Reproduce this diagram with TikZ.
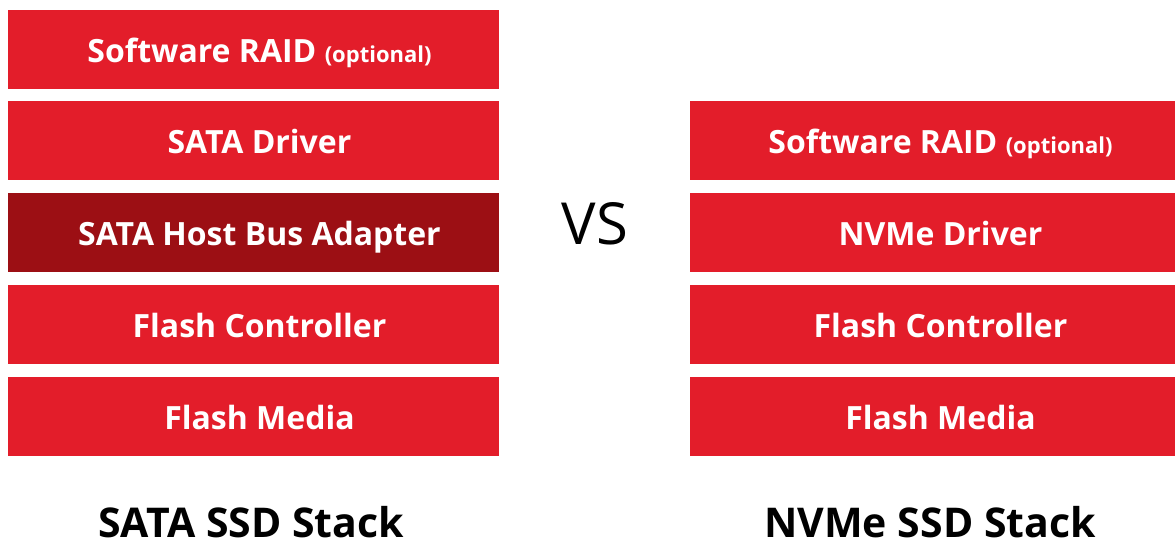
\documentclass[tikz,border=0pt]{standalone}
\usepackage{fontspec}
\setmainfont{Open Sans}
\definecolor{stackred}{HTML}{E31D2A}
\definecolor{stackdark}{HTML}{9C0F14}

\begin{document}
\begin{tikzpicture}[x=1pt,y=-1pt,
  layer/.style={fill=stackred,text=white,inner sep=0pt,minimum width=491pt,minimum height=79pt,
    text height=26pt,text depth=0pt,font=\fontsize{32}{34}\selectfont\bfseries},
  title/.style={font=\fontsize{41}{46}\selectfont\bfseries,inner sep=0pt,text depth=0pt,anchor=base}]
\useasboundingbox (0,0) rectangle (1176,546);
% SATA stack
\node[layer] (sraid) at (253.5,49) {\hspace*{12pt}Software RAID {\fontsize{22}{24}\selectfont (optional)}};
\node[layer] (sdrv) at (253.5,140) {\hspace*{12pt}SATA Driver};
\node[layer,fill=stackdark] (hba) at (253.5,232.5) {\hspace*{12pt}SATA Host Bus Adapter};
\node[layer] (sctl) at (253.5,324.5) {\hspace*{12pt}Flash Controller};
\node[layer] (smed) at (253.5,416.5) {\hspace*{12pt}Flash Media};
\node[title] (stitle) at (251,537) {SATA SSD Stack};
% vs
\node[font=\fontsize{58}{60}\selectfont,inner sep=0pt] (vs) at (595,224) {VS};
% NVMe stack
\node[layer,minimum width=485pt] (nraid) at (932.5,140) {\hspace*{16pt}Software RAID {\fontsize{22}{24}\selectfont (optional)}};
\node[layer,minimum width=485pt] (ndrv) at (932.5,232.5) {\hspace*{16pt}NVMe Driver};
\node[layer,minimum width=485pt] (nctl) at (932.5,324.5) {\hspace*{16pt}Flash Controller};
\node[layer,minimum width=485pt] (nmed) at (932.5,416.5) {\hspace*{16pt}Flash Media};
\node[title] (ntitle) at (930,537) {NVMe SSD Stack};
\end{tikzpicture}
\end{document}
